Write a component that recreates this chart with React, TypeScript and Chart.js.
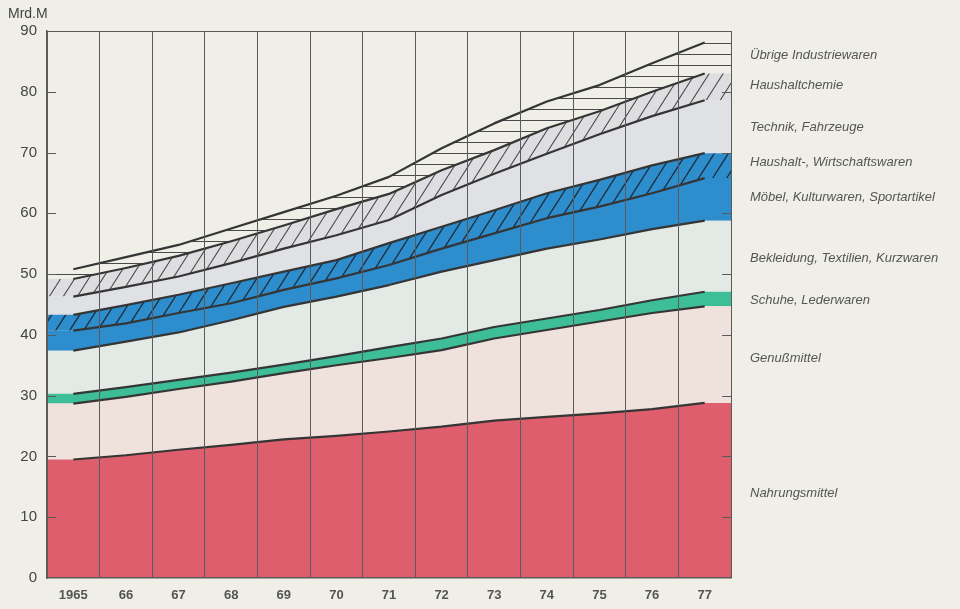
import React, { useEffect, useRef } from 'react';
import { Chart, registerables } from 'chart.js';

Chart.register(...registerables);

// ---- Data (Mrd. M per category, stacked bottom to top) ----
const years = ['1965', '66', '67', '68', '69', '70', '71', '72', '73', '74', '75', '76', '77'];

const nahrungsmittel = [19.5, 20.2, 21.1, 21.9, 22.8, 23.4, 24.1, 24.9, 25.9, 26.5, 27.1, 27.8, 28.8];
const genussmittel = [9.2, 9.6, 10.0, 10.4, 10.9, 11.6, 12.1, 12.6, 13.5, 14.3, 15.1, 15.8, 15.9];
const schuhe = [1.6, 1.6, 1.5, 1.5, 1.4, 1.5, 1.8, 1.9, 1.9, 1.9, 1.9, 2.1, 2.4];
const bekleidung = [7.1, 7.5, 7.8, 8.6, 9.5, 9.8, 10.2, 11.0, 11.0, 11.5, 11.6, 11.7, 11.7];
const moebel = [3.3, 3.0, 3.2, 2.8, 2.8, 3.0, 3.3, 3.8, 4.4, 5.0, 5.4, 5.9, 7.0];
const haushaltwaren = [2.6, 3.0, 3.0, 3.3, 3.0, 3.0, 3.6, 3.6, 3.8, 4.1, 4.4, 4.6, 4.1];
const technik = [3.0, 3.0, 3.0, 3.3, 3.8, 4.1, 3.8, 5.2, 6.0, 6.5, 7.5, 8.1, 8.7];
const haushaltchemie = [2.9, 3.1, 3.4, 3.6, 3.8, 4.3, 4.3, 4.1, 3.9, 4.2, 3.8, 4.0, 4.4];
const uebrige = [1.6, 1.8, 1.8, 2.1, 2.2, 2.2, 2.8, 3.6, 4.4, 4.4, 4.3, 4.7, 5.1];

const categoryNames = [
  'Nahrungsmittel',
  'Genußmittel',
  'Schuhe, Lederwaren',
  'Bekleidung, Textilien, Kurzwaren',
  'Möbel, Kulturwaren, Sportartikel',
  'Haushalt-, Wirtschaftswaren',
  'Technik, Fahrzeuge',
  'Haushaltchemie',
  'Übrige Industriewaren',
];

const yTicks = [0, 10, 20, 30, 40, 50, 60, 70, 80, 90];
const unitLabel = 'Mrd.M';

// ---- Styling / layout (not data) ----
const BG = '#efeee7';
const LINE = '#353535';
const GRID = '#5a5a5a';
const labelAnchorValues = [14.0, 36.2, 45.6, 52.6, 62.7, 68.3, 74.2, 81.0, 86.0];

function diagPattern(bg: string, line: string, lw: number): CanvasPattern | string {
  const w = 14, h = 22;
  const c = document.createElement('canvas');
  c.width = w; c.height = h;
  const g = c.getContext('2d');
  if (!g) return bg;
  g.fillStyle = bg; g.fillRect(0, 0, w, h);
  g.strokeStyle = line; g.lineWidth = lw;
  g.beginPath();
  for (const dx of [-w, 0, w]) { g.moveTo(dx, h); g.lineTo(dx + w, 0); }
  g.stroke();
  return g.createPattern(c, 'repeat') || bg;
}

function horizPattern(bg: string, line: string): CanvasPattern | string {
  const w = 10, h = 11;
  const c = document.createElement('canvas');
  c.width = w; c.height = h;
  const g = c.getContext('2d');
  if (!g) return bg;
  g.fillStyle = bg; g.fillRect(0, 0, w, h);
  g.strokeStyle = line; g.lineWidth = 1;
  g.beginPath(); g.moveTo(0, h - 0.5); g.lineTo(w, h - 0.5); g.stroke();
  return g.createPattern(c, 'repeat') || bg;
}

export default function App() {
  const ref = useRef<HTMLCanvasElement | null>(null);

  useEffect(() => {
    document.body.style.margin = '0';
    document.body.style.background = BG;
    const canvas = ref.current;
    if (!canvas) return;

    const series = [nahrungsmittel, genussmittel, schuhe, bekleidung, moebel, haushaltwaren, technik, haushaltchemie, uebrige];
    const fills: (string | CanvasPattern)[] = [
      '#de5e6d',
      '#efe1dc',
      '#3dbe97',
      '#e3eae5',
      '#2d8dcd',
      diagPattern('#2d8dcd', '#1d2d3c', 1.3),
      '#e0e1e4',
      diagPattern('#dedee1', '#4a4a4a', 1.1),
      horizPattern(BG, '#4a4a4a'),
    ];
    const n = years.length;
    const edgePoints = (vals: number[]) => [
      { x: 0, y: vals[0] },
      ...vals.map((v, i) => ({ x: i + 0.5, y: v })),
      { x: n, y: vals[n - 1] },
    ];
    const centerPoints = (vals: number[]) => vals.map((v, i) => ({ x: i + 0.5, y: v }));

    const fillSets = series.map((vals, i) => ({
      label: categoryNames[i],
      data: edgePoints(vals),
      stack: 'area',
      order: 2,
      backgroundColor: fills[i],
      borderWidth: 0,
      borderColor: 'rgba(0,0,0,0)',
      pointRadius: 0,
      fill: i === 0 ? 'origin' : '-1',
      tension: 0,
    }));
    const lineSets = series.map((vals, i) => ({
      label: categoryNames[i] + ' (Linie)',
      data: centerPoints(vals),
      stack: 'lines',
      order: 1,
      borderColor: LINE,
      borderWidth: 2.2,
      pointRadius: 0,
      fill: false,
      tension: 0,
    }));

    const overlay = {
      id: 'overlay',
      afterDraw(chart: any) {
        const { ctx, chartArea } = chart;
        const y = chart.scales.y;
        ctx.save();
        ctx.strokeStyle = GRID;
        ctx.lineWidth = 1;
        ctx.beginPath();
        ctx.moveTo(chartArea.left, Math.round(chartArea.top) + 0.5);
        ctx.lineTo(chartArea.right, Math.round(chartArea.top) + 0.5);
        ctx.stroke();
        yTicks.forEach((v) => {
          if (v === 0 || v === 90) return;
          const py = Math.round(y.getPixelForValue(v)) + 0.5;
          ctx.beginPath();
          ctx.moveTo(chartArea.left, py); ctx.lineTo(chartArea.left + 9, py);
          ctx.moveTo(chartArea.right, py); ctx.lineTo(chartArea.right - 9, py);
          ctx.stroke();
        });
        ctx.fillStyle = '#444';
        ctx.font = '14px "Liberation Sans", Arial, sans-serif';
        ctx.textBaseline = 'middle';
        ctx.textAlign = 'left';
        ctx.fillText(unitLabel, 8, 14);
        ctx.fillStyle = '#555';
        ctx.font = 'italic 13px "Liberation Sans", Arial, sans-serif';
        categoryNames.forEach((name, i) => {
          ctx.fillText(name, chartArea.right + 19, y.getPixelForValue(labelAnchorValues[i]));
        });
        ctx.restore();
      },
    };

    const chart = new Chart(canvas, {
      type: 'line',
      data: { datasets: [...fillSets, ...lineSets] as any },
      options: {
        responsive: false,
        animation: false,
        devicePixelRatio: 1,
        layout: { padding: { left: 0, right: 229, top: 31, bottom: 0 } },
        plugins: { legend: { display: false }, tooltip: { enabled: false }, filler: { propagate: false } },
        elements: { line: { borderJoinStyle: 'round' } },
        scales: {
          x: {
            type: 'linear',
            min: 0,
            max: n,
            afterBuildTicks: (scale: any) => {
              const t = [];
              for (let k = 0; k <= 2 * n; k++) t.push({ value: k / 2 });
              scale.ticks = t;
            },
            afterFit: (scale: any) => { scale.height = 31; },
            grid: {
              z: 1,
              color: (c: any) => (c.tick && Number.isInteger(c.tick.value) ? GRID : 'rgba(0,0,0,0)'),
              lineWidth: 1,
              drawTicks: false,
            },
            border: { display: true, color: GRID, width: 1.5, z: 2 },
            ticks: {
              autoSkip: false,
              maxRotation: 0,
              padding: 10,
              color: '#555',
              font: { family: '"Liberation Sans", Arial, sans-serif', size: 13, weight: 'bold' },
              callback: (v: any) => {
                const val = Number(v);
                return Number.isInteger(val) ? '' : years[Math.floor(val)];
              },
            },
          },
          y: {
            type: 'linear',
            stacked: true,
            min: 0,
            max: 90,
            afterBuildTicks: (scale: any) => { scale.ticks = yTicks.map((v) => ({ value: v })); },
            afterFit: (scale: any) => { scale.width = 47; },
            grid: { drawOnChartArea: false, drawTicks: false },
            border: { display: true, color: GRID, width: 1.5, z: 2 },
            ticks: {
              padding: 10,
              color: '#444',
              font: { family: '"Liberation Sans", Arial, sans-serif', size: 15 },
            },
          },
        },
      } as any,
      plugins: [overlay],
    });
    return () => chart.destroy();
  }, []);

  return (
    <div style={{ width: 960, height: 609, background: BG }}>
      <canvas ref={ref} width={960} height={609} style={{ display: 'block' }} />
    </div>
  );
}
